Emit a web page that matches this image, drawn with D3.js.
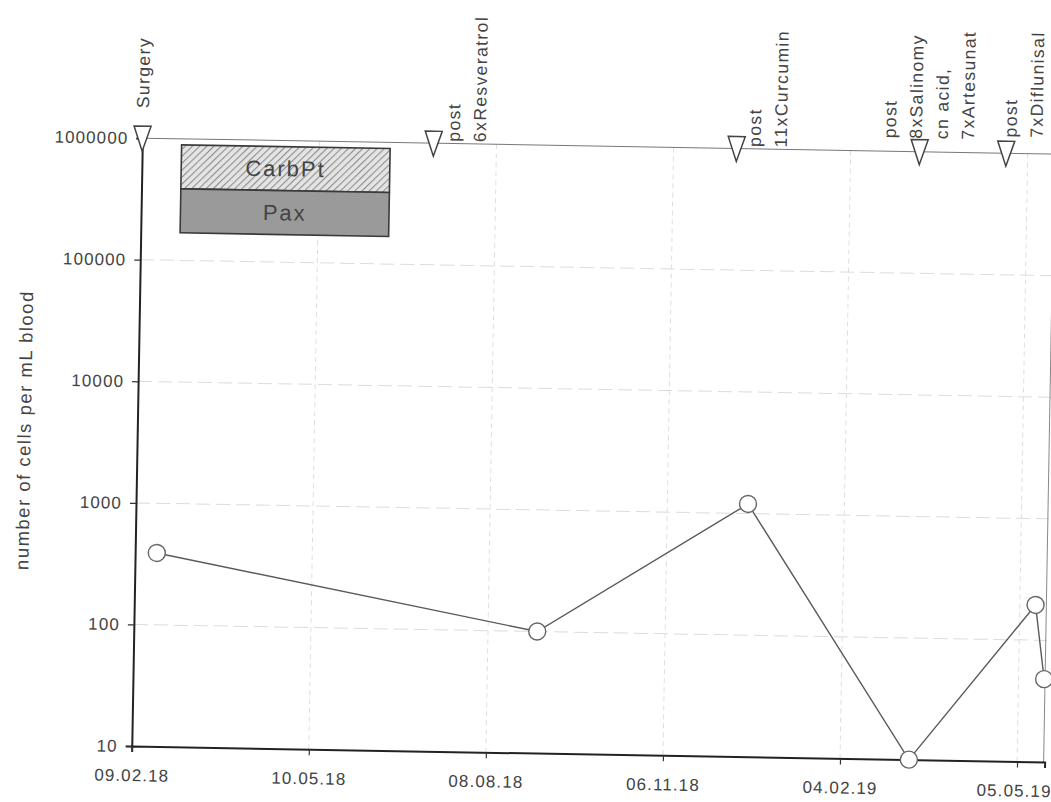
<!DOCTYPE html>
<html>
<head>
<meta charset="utf-8">
<script src="https://cdn.jsdelivr.net/npm/d3@7"></script>
<style>
	body { margin: 0; background: #fff; }
	#chart { width: 1051px; height: 802px; }
	text { font-family: "Liberation Sans", Arial, sans-serif; fill: #444; }
</style>
</head>
<body>
<div id="chart"></div>
<script>
// Sample dates and cell counts (cells per mL blood)
const sampleDates = ["2018-02-20", "2018-09-02", "2018-12-17", "2019-03-11", "2019-05-13", "2019-05-18"]
const cellCounts = [390, 100, 1200, 10, 195, 48]

// Therapy events shown as triangles at the top
const eventDates = ["2018-02-09", "2018-07-07", "2018-12-08", "2019-03-11", "2019-04-24"]
const eventLabels = [
	["Surgery"],
	["post", "6xResveratrol"],
	["post", "11xCurcumin"],
	["post", "8xSalinomy", "cn acid,", "7xArtesunat"],
	["post", "7xDiflunisal"],
]

// Treatment period box
const treatmentNames = ["CarbPt", "Pax"]
const treatmentStart = "2018-03-01"
const treatmentEnd = "2018-06-15"

// Axis ticks
const yTicks = [10, 100, 1000, 10000, 100000, 1000000]
const xTickDates = ["2018-02-09", "2018-05-10", "2018-08-08", "2018-11-06", "2019-02-04", "2019-05-05"]
const xDomain = ["2018-02-09", "2019-05-19"]

// label placement per event: first column shift and start offset above the line
const labelLayout = [
	{ dx: 0, up: 30 },
	{ dx: 20, up: 2 },
	{ dx: 18, up: 2 },
	{ dx: -30, up: 13 },
	{ dx: 4, up: 16 },
]

const parseDate = d3.timeParse("%Y-%m-%d")

function renderChart() {
	const margin = { top: 146, right: 1, bottom: 48, left: 137 }
	const fullWidth = 1051
	const fullHeight = 802
	const width = fullWidth - margin.left - margin.right
	const height = fullHeight - margin.top - margin.bottom

	const root = d3
		.select("#chart")
		.append("svg")
		.attr("width", fullWidth)
		.attr("height", fullHeight)
		.append("g")
		// the scanned original is slightly tilted
		.attr("transform", "rotate(1, 590, 450)")

	const svg = root.append("g").attr("transform", `translate(${margin.left},${margin.top})`)

	const defs = d3.select("#chart svg").append("defs")
	const hatch = defs
		.append("pattern")
		.attr("id", "hatch")
		.attr("patternUnits", "userSpaceOnUse")
		.attr("width", 5)
		.attr("height", 5)
		.attr("patternTransform", "rotate(45)")
	hatch.append("rect").attr("width", 5).attr("height", 5).attr("fill", "#e4e4e4")
	hatch.append("line").attr("x1", 0).attr("y1", 0).attr("x2", 0).attr("y2", 5).attr("stroke", "#8e8e8e").attr("stroke-width", 2.2)

	// Scales
	const x = d3.scaleTime().domain(xDomain.map(parseDate)).range([0, width])
	const y = d3.scaleLog().domain([10, 1000000]).range([height, 0])

	// Gridlines
	svg.append("g")
		.attr("class", "grid")
		.selectAll("line")
		.data(yTicks.slice(1, -1))
		.join("line")
		.attr("x1", 0)
		.attr("x2", width)
		.attr("y1", (d) => y(d))
		.attr("y2", (d) => y(d))
		.attr("stroke", "#d6dde2")
		.attr("stroke-width", 1)
		.attr("stroke-dasharray", "14,6")

	svg.append("g")
		.attr("class", "grid")
		.selectAll("line")
		.data(xTickDates.slice(1).map(parseDate))
		.join("line")
		.attr("x1", (d) => x(d))
		.attr("x2", (d) => x(d))
		.attr("y1", 0)
		.attr("y2", height)
		.attr("stroke", "#dcdfe2")
		.attr("stroke-width", 1)
		.attr("stroke-dasharray", "5,4")

	// Top and right frame
	svg.append("line")
		.attr("x1", 0)
		.attr("x2", width)
		.attr("y1", 0)
		.attr("y2", 0)
		.attr("stroke", "#777")
		.attr("stroke-width", 1)
	svg.append("line")
		.attr("x1", width - 1)
		.attr("x2", width - 1)
		.attr("y1", 0)
		.attr("y2", height)
		.attr("stroke", "#888")
		.attr("stroke-width", 1)

	// Axes
	svg.append("g")
		.attr("class", "y-axis")
		.call(d3.axisLeft(y).tickValues(yTicks).tickFormat(d3.format("d")).tickSize(6).tickPadding(8))
	svg.append("g")
		.attr("class", "x-axis")
		.attr("transform", `translate(0,${height})`)
		.call(
			d3
				.axisBottom(x)
				.tickValues(xTickDates.map(parseDate))
				.tickFormat(d3.timeFormat("%d.%m.%y"))
				.tickSize(6)
				.tickPadding(17)
		)

	svg.selectAll(".x-axis path, .y-axis path").attr("stroke", "#222").attr("stroke-width", 2)
	svg.selectAll(".x-axis line, .y-axis line").attr("stroke", "#333").attr("stroke-width", 1.2)
	svg.selectAll(".x-axis text, .y-axis text")
		.attr("fill", "#4a4a4a")
		.style("font-size", "17px")
		.style("letter-spacing", "1.1px")
		.style("font-family", '"Liberation Sans", Arial, sans-serif')
	// last date label sits at the window edge; nudge it inside
	svg.selectAll(".x-axis .tick:last-of-type text").attr("dx", "-3px")

	// Y axis title
	svg.append("text")
		.attr("transform", `translate(${24 - margin.left},${440 - margin.top}) rotate(-90)`)
		.attr("text-anchor", "middle")
		.attr("dy", "0.35em")
		.style("font-size", "18.5px")
		.style("letter-spacing", "1.5px")
		.attr("fill", "#555")
		.text("number of cells per mL blood")

	// Treatment box
	const tx0 = x(parseDate(treatmentStart))
	const tx1 = x(parseDate(treatmentEnd))
	const rowH = 44
	treatmentNames.forEach((name, i) => {
		const top = 6 + i * rowH
		svg.append("rect")
			.attr("x", tx0)
			.attr("y", top)
			.attr("width", tx1 - tx0)
			.attr("height", rowH)
			.attr("fill", i === 0 ? "url(#hatch)" : "#9a9a9a")
			.attr("stroke", "#3a3a3a")
			.attr("stroke-width", 1.6)
		svg.append("text")
			.attr("x", (tx0 + tx1) / 2)
			.attr("y", top + rowH / 2)
			.attr("dy", "0.35em")
			.attr("text-anchor", "middle")
			.style("font-size", "22px")
			.style("letter-spacing", "2px")
			.attr("fill", "#3a3a3a")
			.text(name)
	})

	// Data line and points
	const points = sampleDates.map((d, i) => ({ date: parseDate(d), value: cellCounts[i] }))
	const line = d3
		.line()
		.x((d) => x(d.date))
		.y((d) => y(d.value))

	svg.append("path")
		.datum(points)
		.attr("fill", "none")
		.attr("stroke", "#5a5a5a")
		.attr("stroke-width", 1.4)
		.attr("d", line)

	svg.selectAll(".pt")
		.data(points)
		.join("circle")
		.attr("class", "pt")
		.attr("cx", (d) => x(d.date))
		.attr("cy", (d) => y(d.value))
		.attr("r", 8.5)
		.attr("fill", "#fff")
		.attr("stroke", "#666")
		.attr("stroke-width", 1.4)

	// Event markers and labels
	const lineY = y(1000000)
	eventDates.forEach((d, i) => {
		const ex = x(parseDate(d))
		svg.append("path")
			.attr("d", "M-8.5,-12L8.5,-12L0,13Z")
			.attr("transform", `translate(${ex},${lineY})`)
			.attr("fill", "#fff")
			.attr("stroke", "#444")
			.attr("stroke-width", 1.5)

		const lay = labelLayout[i]
		eventLabels[i].forEach((txt, j) => {
			const cx = ex + lay.dx + j * 26
			const startY = lineY - lay.up
			svg.append("text")
				.attr("transform", `translate(${cx},${startY}) rotate(-90)`)
				.attr("dy", "0.35em")
				.attr("text-anchor", "start")
				.style("font-size", "17.5px")
				.style("letter-spacing", "1.4px")
				.attr("fill", "#3f3f3f")
				.text(txt)
		})
	})
}

renderChart()
</script>
</body>
</html>
